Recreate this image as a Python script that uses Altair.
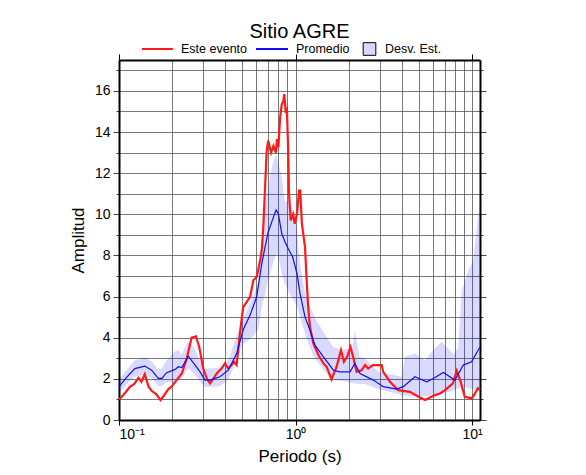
import altair as alt
import pandas as pd

# ---- data ----
red_T = [0.100, 0.108, 0.115, 0.122, 0.129, 0.134, 0.140, 0.147, 0.153, 0.163, 0.172, 0.180,
         0.190, 0.200, 0.212, 0.227, 0.242, 0.258, 0.273, 0.285, 0.300, 0.315, 0.328, 0.342,
         0.358, 0.381, 0.398, 0.416, 0.434, 0.448, 0.464, 0.484, 0.505, 0.529, 0.553, 0.577,
         0.603, 0.630, 0.644, 0.657, 0.687, 0.700, 0.727, 0.750, 0.774, 0.785, 0.800, 0.818,
         0.836, 0.853, 0.864, 0.879, 0.894, 0.908, 0.919, 0.940, 0.970, 0.990, 1.020, 1.047,
         1.063, 1.087, 1.132, 1.157, 1.180, 1.208, 1.262, 1.350, 1.440, 1.500, 1.600, 1.710,
         1.810, 1.880, 1.960, 2.050, 2.120, 2.220, 2.370, 2.480, 2.580, 2.750, 3.080, 3.140,
         3.430, 3.820, 4.450, 4.980, 5.420, 6.170, 6.590, 7.030, 7.800, 8.190, 8.600, 9.100,
         9.980, 10.40, 10.80, 11.10]
red_A = [1.00, 1.30, 1.60, 1.75, 2.05, 1.86, 2.23, 1.62, 1.42, 1.25, 0.97, 1.20,
         1.49, 1.65, 1.94, 2.26, 2.99, 4.01, 4.07, 3.55, 2.50, 2.00, 1.78, 2.00,
         2.26, 2.50, 2.75, 2.50, 2.67, 2.83, 2.67, 4.20, 5.49, 5.74, 5.98, 6.79,
         6.95, 7.76, 8.24, 9.37, 13.09, 13.58, 13.00, 13.33, 13.00, 13.66, 13.25, 14.70,
         15.35, 15.50, 15.84, 15.03, 15.11, 13.25, 11.00, 9.70, 10.00, 9.54, 10.00, 11.15,
         11.15, 9.54, 8.40, 6.79, 5.49, 4.52, 3.72, 3.15, 2.75, 2.59, 1.97, 2.59,
         3.39, 2.83, 3.07, 3.55, 3.07, 2.34, 2.42, 2.67, 2.50, 2.67, 2.67, 2.34,
         1.86, 1.45, 1.37, 1.13, 0.97, 1.21, 1.29, 1.45, 1.78, 2.39, 1.90, 1.13,
         1.05, 1.29, 1.54, 1.45]

blue_T = [0.100, 0.111, 0.123, 0.140, 0.153, 0.167, 0.175, 0.186, 0.208, 0.217, 0.227, 0.247,
          0.270, 0.288, 0.307, 0.328, 0.373, 0.416, 0.464, 0.506, 0.553, 0.603, 0.644, 0.672,
          0.700, 0.750, 0.776, 0.800, 0.836, 0.872, 0.910, 0.964, 1.020, 1.061, 1.132, 1.208,
          1.289, 1.438, 1.535, 1.637, 1.787, 2.036, 2.170, 2.320, 2.760, 3.140, 3.740, 4.080,
          4.750, 5.540, 6.040, 6.880, 8.000, 8.930, 9.940, 11.10]
blue_A = [1.62, 2.10, 2.50, 2.62, 2.42, 2.02, 2.02, 2.30, 2.46, 2.59, 2.55, 3.10,
          2.67, 2.34, 1.94, 1.94, 2.10, 2.42, 3.23, 4.40, 5.10, 6.00, 7.60, 8.40,
          9.13, 9.86, 10.21, 10.02, 9.05, 8.65, 8.32, 7.92, 7.11, 6.14, 5.01, 4.36,
          3.64, 3.07, 2.75, 2.42, 2.34, 2.34, 2.75, 2.26, 1.94, 1.62, 1.50, 1.62,
          2.10, 1.86, 2.02, 2.31, 1.94, 2.67, 2.83, 3.55]

band_T = [0.100, 0.111, 0.123, 0.140, 0.153, 0.167, 0.175, 0.186, 0.208, 0.217, 0.227, 0.247,
          0.270, 0.288, 0.307, 0.328, 0.373, 0.416, 0.464, 0.506, 0.565, 0.616, 0.644, 0.672,
          0.700, 0.750, 0.776, 0.800, 0.836, 0.872, 0.931, 1.020, 1.061, 1.132, 1.208, 1.310,
          1.500, 1.640, 1.830, 2.100, 2.170, 2.300, 2.480, 2.950, 3.660, 3.990, 4.170, 4.760,
          5.420, 6.170, 6.730, 7.500, 7.900, 8.360, 8.750, 9.530, 10.17, 10.60, 11.10]
band_lo = [1.30, 1.75, 2.10, 2.20, 2.00, 1.65, 1.65, 1.85, 1.85, 1.95, 2.00, 2.50,
           2.20, 1.85, 1.60, 1.60, 1.65, 1.95, 2.90, 3.70, 4.00, 4.40, 5.50, 6.10,
           6.80, 7.70, 8.10, 8.00, 7.10, 6.60, 6.10, 5.50, 5.00, 4.20, 3.50, 2.91,
           2.26, 1.94, 1.90, 1.80, 1.78, 1.75, 1.75, 1.50, 1.30, 1.22, 1.20, 1.13,
           1.15, 1.20, 1.30, 1.37, 1.45, 1.55, 1.62, 1.55, 1.50, 1.45, 1.45]
band_hi = [2.00, 2.45, 2.90, 3.05, 2.85, 2.45, 2.50, 2.90, 3.35, 3.40, 3.20, 3.85,
           3.40, 2.90, 2.50, 2.50, 2.55, 2.90, 4.10, 4.90, 5.90, 6.70, 9.00, 10.2,
           11.4, 12.6, 12.9, 12.5, 11.8, 10.6, 10.67, 9.20, 7.60, 6.20, 5.50, 4.85,
           4.04, 3.55, 3.40, 3.50, 4.40, 3.07, 2.99, 2.34, 2.18, 2.10, 3.07, 3.23,
           2.91, 3.50, 3.80, 3.39, 3.20, 3.55, 6.30, 7.27, 7.76, 9.20, 10.67]

x_grid = [0.1, 0.2, 0.3, 0.4, 0.5, 0.6, 0.7, 0.8, 0.9, 1, 2, 3, 4, 5, 6, 7, 8, 9, 10]
x_decades = [0.1, 1, 10]
y_ticks = list(range(0, 18))

title_text = "Sitio AGRE"
x_title = "Periodo (s)"
y_title = "Amplitud"
legend_names = ["Este evento", "Promedio", "Desv. Est."]

red_df = pd.DataFrame({"T": red_T, "A": red_A})
blue_df = pd.DataFrame({"T": blue_T, "A": blue_A})
band_df = pd.DataFrame({"T": band_T, "lo": band_lo, "hi": band_hi})
one = pd.DataFrame({"k": [0]})

FONT = "Liberation Sans"
RED = "#ff1a1a"
BLUE = "#1010ee"

xs = alt.Scale(type="log", domain=[0.1, 11.1], nice=False)
ys = alt.Scale(domain=[0, 17.5], nice=False, zero=False)

dec_test = "abs(datum.value - 0.1) < 1e-6 || abs(datum.value - 1) < 1e-6 || abs(datum.value - 10) < 1e-6"
even_test = "datum.value % 2 == 0"

x_axis = alt.Axis(
    values=x_grid, grid=True, gridColor="#555555", gridWidth=0.8,
    labelExpr="abs(datum.value - 0.1) < 1e-6 ? '10⁻¹' : abs(datum.value - 1) < 1e-6 ? '10⁰' : abs(datum.value - 10) < 1e-6 ? '10¹' : ''",
    labelOverlap=False, labelFont=FONT, labelFontSize=14, labelColor="black", labelPadding=2,
    tickColor="black", tickSize=5,
    tickOpacity={"condition": {"test": dec_test, "value": 1}, "value": 0},
    domainColor="black", domainWidth=2,
    title=x_title, titleFont=FONT, titleFontSize=17, titleFontWeight="normal",
    titleColor="black", titlePadding=7,
)
y_axis = alt.Axis(
    values=y_ticks, grid=True, gridColor="#555555", gridWidth=0.8,
    labelExpr="datum.value % 2 == 0 ? datum.value : ''",
    labelOverlap=False, labelFont=FONT, labelFontSize=14, labelColor="black", labelPadding=3,
    tickColor="#444444", tickSize={"condition": {"test": even_test, "value": 6}, "value": 3},
    domainColor="black", domainWidth=2,
    title=y_title, titleFont=FONT, titleFontSize=17, titleFontWeight="normal",
    titleColor="black", titlePadding=7,
)
x_top = alt.Axis(values=x_decades, orient="top", grid=False, labels=False, title=None,
                 tickColor="black", tickSize=6, domainColor="black", domainWidth=2)
y_right = alt.Axis(values=y_ticks, orient="right", grid=False, labels=False, title=None,
                   tickColor="#444444",
                   tickSize={"condition": {"test": even_test, "value": 6}, "value": 3},
                   domainColor="black", domainWidth=2)

band = alt.Chart(band_df).mark_area(color="#0000ff", opacity=0.15).encode(
    x=alt.X("T:Q", scale=xs, axis=x_axis),
    y=alt.Y("lo:Q", scale=ys, axis=y_axis),
    y2="hi:Q",
)
red = alt.Chart(red_df).mark_line(color=RED, strokeWidth=2.2).encode(
    x=alt.X("T:Q", scale=xs, axis=None), y=alt.Y("A:Q", scale=ys, axis=None))
blue = alt.Chart(blue_df).mark_line(color=BLUE, strokeWidth=1.2).encode(
    x=alt.X("T:Q", scale=xs, axis=None), y=alt.Y("A:Q", scale=ys, axis=None))

mirror = alt.Chart(blue_df).mark_point(opacity=0).encode(
    x=alt.X("T:Q", scale=xs, axis=x_top),
    y=alt.Y("A:Q", scale=ys, axis=y_right),
)

LY = -11
LFS = 12.5
leg_red = alt.Chart(one).mark_rule(color=RED, strokeWidth=2).encode(
    x=alt.value(23), x2=alt.value(54), y=alt.value(LY))
leg_blue = alt.Chart(one).mark_rule(color=BLUE, strokeWidth=2).encode(
    x=alt.value(137), x2=alt.value(169), y=alt.value(LY))
leg_box = alt.Chart(one).mark_square(size=160, fill="#d9d9ff", fillOpacity=1,
                                     stroke="black", strokeWidth=1).encode(
    x=alt.value(250.5), y=alt.value(LY))
leg_t1 = alt.Chart(one).mark_text(text=legend_names[0], align="left", baseline="middle",
                                  font=FONT, fontSize=LFS, color="black").encode(
    x=alt.value(62), y=alt.value(LY))
leg_t2 = alt.Chart(one).mark_text(text=legend_names[1], align="left", baseline="middle",
                                  font=FONT, fontSize=LFS, color="black").encode(
    x=alt.value(177), y=alt.value(LY))
leg_t3 = alt.Chart(one).mark_text(text=legend_names[2], align="left", baseline="middle",
                                  font=FONT, fontSize=LFS, color="black").encode(
    x=alt.value(266), y=alt.value(LY))

chart = alt.layer(
    band, red, blue, mirror, leg_red, leg_blue, leg_box, leg_t1, leg_t2, leg_t3
).resolve_axis(x="independent", y="independent").properties(
    width=361, height=360,
    title=alt.TitleParams(title_text, font=FONT, fontSize=20, fontWeight="normal",
                          color="black", anchor="middle", offset=3, dy=4),
    autosize=alt.AutoSizeParams(type="none"),
    padding={"left": 111, "top": 52, "right": 10, "bottom": 50},
).configure_view(stroke=None)

chart.save("out.html", embed_options={"renderer": "svg", "actions": False})
